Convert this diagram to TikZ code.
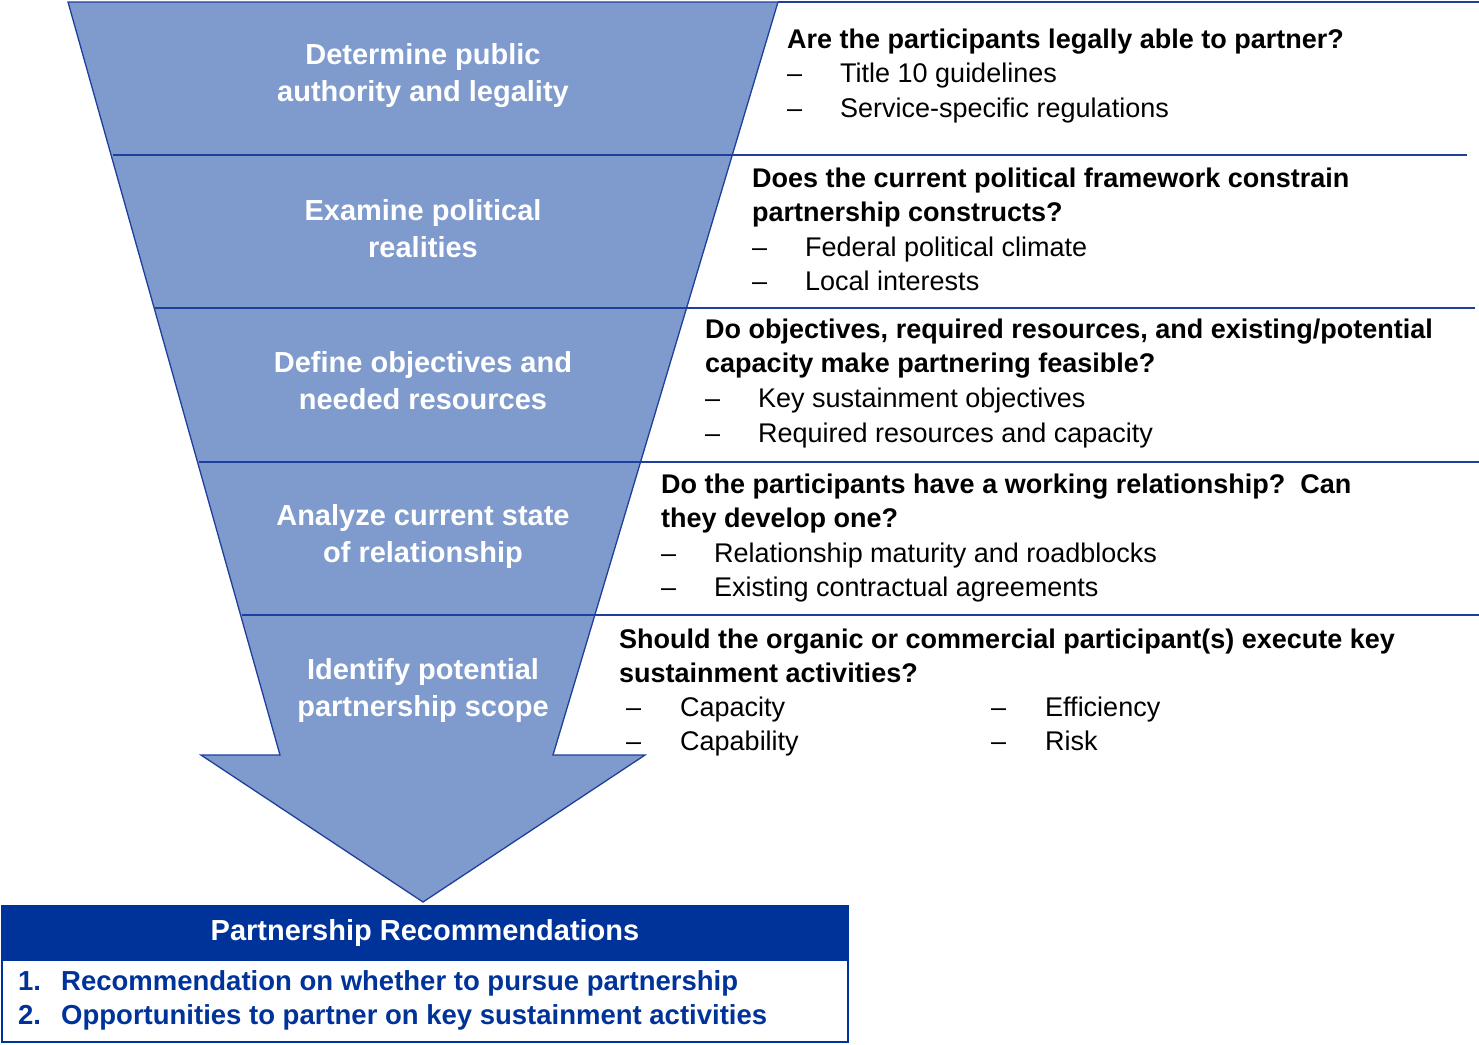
\documentclass[tikz,border=0pt]{standalone}
\usepackage{fontspec}
\setmainfont{Liberation Sans}
\definecolor{fun}{HTML}{7F9ACC}
\definecolor{dk}{HTML}{1F3F9F}
\definecolor{hdr}{HTML}{003399}
\begin{document}
\begin{tikzpicture}[x=1pt,y=-1pt,
 stage/.style={text=white,font=\fontsize{29}{37}\selectfont\bfseries,align=center},
 q/.style={anchor=base west,font=\fontsize{27}{28}\selectfont\bfseries,inner sep=0},
 it/.style={anchor=base west,font=\fontsize{27}{28}\selectfont,inner sep=0},
 rec/.style={anchor=base west,font=\fontsize{27.5}{28}\selectfont\bfseries,text=hdr,inner sep=0},
 sep/.style={dk,line width=1.2pt}]
\useasboundingbox (0,0) rectangle (1479,1044);
\fill[fun] (68,2) -- (778,2) -- (553,755) -- (645,755) -- (423,902) -- (201,755) -- (280,755) -- cycle;
\draw[dk,line width=1.3pt] (68,2) -- (778,2) -- (553,755) -- (645,755) -- (423,902) -- (201,755) -- (280,755) -- cycle;
\draw[sep] (778,2) -- (1479,2);
\draw[sep] (113,155) -- (1467,155);
\draw[sep] (155,308) -- (1475,308);
\draw[sep] (199,462) -- (1479,462);
\draw[sep] (242,615) -- (1479,615);
\node[stage] (s1) at (423,76) {Determine public\\authority and legality};
\node[stage] (s2) at (423,229) {Examine political\\realities};
\node[stage] (s3) at (423,381) {Define objectives and\\needed resources};
\node[stage] (s4) at (423,536) {Analyze current state\\of relationship};
\node[stage] (s5) at (423,690) {Identify potential\\partnership scope};
% texts
\node[q] (q1) at (787,48) {Are the participants legally able to partner?};
\node[it] at (787,82) {–}; \node[it] (a1) at (840,82) {Title 10 guidelines};
\node[it] at (787,117) {–}; \node[it] (a2) at (840,117) {Service-specific regulations};
\node[q] (q2) at (752,187) {Does the current political framework constrain};
\node[q] at (752,221) {partnership constructs?};
\node[it] at (752,256) {–}; \node[it] at (805,256) {Federal political climate};
\node[it] at (752,290) {–}; \node[it] at (805,290) {Local interests};
\node[q] (q3) at (705,338) {Do objectives, required resources, and existing/potential};
\node[q] at (705,372) {capacity make partnering feasible?};
\node[it] at (705,407) {–}; \node[it] at (758,407) {Key sustainment objectives};
\node[it] at (705,442) {–}; \node[it] at (758,442) {Required resources and capacity};
\node[q] (q4) at (661,493) {Do the participants have a working relationship?\ \ Can};
\node[q] at (661,527) {they develop one?};
\node[it] at (661,562) {–}; \node[it] at (714,562) {Relationship maturity and roadblocks};
\node[it] at (661,596) {–}; \node[it] at (714,596) {Existing contractual agreements};
\node[q] (q5) at (619,648) {Should the organic or commercial participant(s) execute key};
\node[q] at (619,682) {sustainment activities?};
\node[it] at (626,716) {–}; \node[it] at (680,716) {Capacity};
\node[it] at (626,750) {–}; \node[it] at (680,750) {Capability};
\node[it] at (991,716) {–}; \node[it] at (1045,716) {Efficiency};
\node[it] at (991,750) {–}; \node[it] at (1045,750) {Risk};
% bottom box
\draw[hdr,line width=1.3pt,fill=white] (2,906) rectangle (848,1042);
\fill[hdr] (2,906) rectangle (848,961);
\node[text=white,font=\fontsize{29}{30}\selectfont\bfseries] (h) at (425,933) {Partnership Recommendations};
\node[rec] at (18,990) {1.}; \node[rec] (r1) at (61,990) {Recommendation on whether to pursue partnership};
\node[rec] at (18,1024) {2.}; \node[rec] (r2) at (61,1024) {Opportunities to partner on key sustainment activities};
\end{tikzpicture}
\end{document}
